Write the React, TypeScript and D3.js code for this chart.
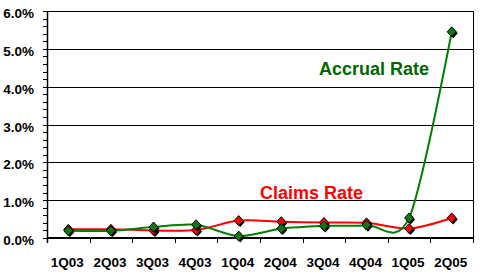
import React from "react";
import * as d3 from "d3";

const categories = ["1Q03", "2Q03", "3Q03", "4Q03", "1Q04", "2Q04", "3Q04", "4Q04", "1Q05", "2Q05"];
const claimsRate = [0.23, 0.23, 0.2, 0.21, 0.46, 0.43, 0.41, 0.4, 0.25, 0.53];
const accrualRate = [0.19, 0.19, 0.29, 0.35, 0.05, 0.25, 0.32, 0.34, 0.53, 5.45];
const yTicks = [0, 1, 2, 3, 4, 5, 6];

const W = 480;
const H = 280;
const left = 47;
const right = 473;
const top = 11;
const bottom = 238;

export default function App() {
  const x = d3.scaleBand<string>().domain(categories).range([left, right]).padding(0);
  const y = d3.scaleLinear().domain([0, 6]).range([bottom, top]);
  const cx = (c: string) => (x(c) as number) + x.bandwidth() / 2;
  const snap = (v: number) => Math.round(v) + 0.5;
  const line = d3
    .line<number>()
    .x((_, i) => cx(categories[i]))
    .y((d) => y(d))
    .curve(d3.curveCardinal.tension(0.1));
  const minor = d3.range(0, 6.0001, 0.2);
  const diamond = (px: number, py: number) =>
    `M${px},${py - 5}L${px + 4.5},${py}L${px},${py + 5}L${px - 4.5},${py}Z`;
  const bounds = [...categories.map((c) => x(c) as number), right];

  const markers = (vals: number[], fill: string) =>
    vals.map((v, i) => {
      const px = cx(categories[i]);
      const py = y(v);
      return (
        <g key={i}>
          <path d={diamond(px + 1.5, py + 1.5)} fill="#000" />
          <path d={diamond(px, py)} fill={fill} stroke="#000" strokeWidth={1} />
        </g>
      );
    });

  return (
    <svg width={W} height={H} style={{ position: "absolute", left: 0, top: 0, background: "#fff" }}>
      {yTicks.slice(1).map((t) => (
        <line key={t} x1={left} x2={right} y1={snap(y(t))} y2={snap(y(t))} stroke="#000" strokeWidth={1} />
      ))}
      {minor.map((t, i) => (
        <line key={i} x1={left - 4} x2={left} y1={snap(y(t))} y2={snap(y(t))} stroke="#000" strokeWidth={1} />
      ))}
      <line x1={left} x2={right} y1={bottom} y2={bottom} stroke="#000" strokeWidth={2} />
      <line x1={left + 0.5} x2={left + 0.5} y1={top} y2={bottom + 5} stroke="#000" strokeWidth={1.5} />
      <line x1={right + 0.5} x2={right + 0.5} y1={top} y2={bottom + 5} stroke="#000" strokeWidth={1} />
      {bounds.map((b, i) => (
        <line key={i} x1={snap(b)} x2={snap(b)} y1={bottom} y2={bottom + 5} stroke="#000" strokeWidth={1} />
      ))}
      {yTicks.map((t) => (
        <text
          key={t}
          x={34}
          y={y(t) + 7}
          textAnchor="end"
          fontFamily="'Liberation Sans', Arial, sans-serif"
          fontWeight="bold"
          fontSize={13.5}
          fill="#000"
        >
          {t.toFixed(1) + "%"}
        </text>
      ))}
      {categories.map((c) => (
        <text
          key={c}
          x={cx(c) - 1}
          y={267}
          textAnchor="middle"
          fontFamily="'Liberation Sans Narrow', 'Liberation Sans', Arial, sans-serif"
          fontWeight="bold"
          fontSize={13.5}
          fill="#000"
        >
          {c}
        </text>
      ))}
      <path d={line(claimsRate) || ""} fill="none" stroke="#ff0000" strokeWidth={2} />
      <path d={line(accrualRate) || ""} fill="none" stroke="#008000" strokeWidth={2} />
      {markers(claimsRate, "#ff0000")}
      {markers(accrualRate, "#0a7a0a")}
      <text x={319} y={75} fontFamily="'Liberation Sans', Arial, sans-serif" fontWeight="bold" fontSize={18} fill="#006600">
        Accrual Rate
      </text>
      <text x={260} y={199} fontFamily="'Liberation Sans', Arial, sans-serif" fontWeight="bold" fontSize={18} fill="#ff0000">
        Claims Rate
      </text>
    </svg>
  );
}
